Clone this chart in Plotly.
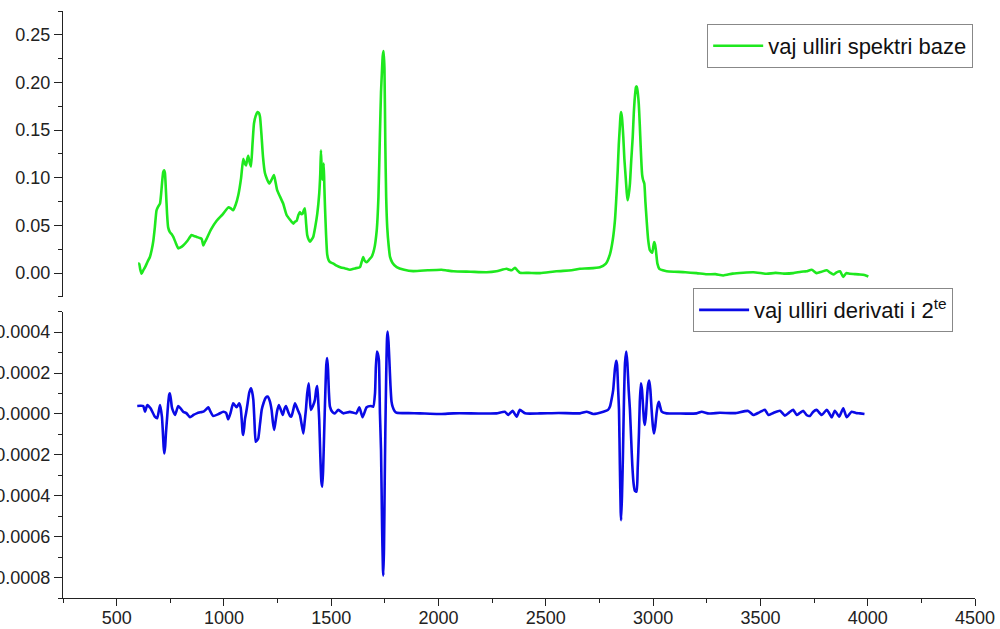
import plotly.graph_objects as go

# ---- data ----
wn_base = [600, 605, 610, 616, 624, 632, 644, 655, 663, 671, 678, 686, 694, 702, 708, 713, 717, 721, 725,
           730, 735, 740, 748, 756, 764, 775, 787, 798, 810, 830, 849, 860, 873, 885, 896, 904, 912, 919,
           940, 966, 995, 1020, 1032, 1043, 1055, 1067, 1080, 1090, 1097, 1103, 1108, 1113, 1120, 1126, 1133,
           1140, 1148, 1157, 1163, 1168, 1175, 1182, 1191, 1200, 1211, 1222, 1233, 1240, 1248, 1262, 1276,
           1292, 1308, 1323, 1331, 1339, 1347, 1354, 1360, 1367, 1372, 1377, 1383, 1388, 1395, 1401, 1408,
           1416, 1425, 1435, 1444, 1449, 1452, 1455, 1458, 1462, 1465, 1468, 1471, 1476, 1481, 1487, 1494,
           1510, 1525, 1545, 1565, 1587, 1610, 1634, 1642, 1649, 1656, 1665, 1676, 1688, 1700, 1712, 1720,
           1727, 1732, 1736, 1740, 1744, 1748, 1752, 1756, 1761, 1768, 1774, 1785, 1805, 1840, 1882, 1950,
           2014, 2040, 2069, 2150, 2224, 2270, 2317, 2330, 2341, 2356, 2367, 2379, 2420, 2473, 2550, 2620,
           2659, 2700, 2752, 2780, 2799, 2812, 2822, 2830, 2835, 2840, 2845, 2848, 2851, 2855, 2861, 2866,
           2872, 2877, 2881, 2886, 2892, 2898, 2905, 2910, 2915, 2920, 2923, 2927, 2933, 2938, 2942, 2946,
           2949, 2953, 2959, 2964, 2970, 2977, 2985, 2996, 3001, 3005, 3009, 3013, 3020, 3029, 3045, 3063,
           3100, 3150, 3203, 3250, 3290, 3327, 3370, 3420, 3467, 3500, 3529, 3570, 3610, 3653, 3690, 3715,
           3739, 3762, 3785, 3809, 3825, 3840, 3855, 3871, 3886, 3900, 3917, 3940, 3964, 3985, 4003]
abs_base = [0.010, 0.0099, 0.004, -0.0006, 0.003, 0.006, 0.012, 0.017, 0.024, 0.034, 0.048, 0.066, 0.070,
            0.073, 0.085, 0.098, 0.106, 0.108, 0.105, 0.085, 0.062, 0.048, 0.043, 0.041, 0.038, 0.032, 0.026,
            0.027, 0.029, 0.034, 0.040, 0.039, 0.038, 0.037, 0.036, 0.029, 0.033, 0.036, 0.046, 0.055, 0.062,
            0.069, 0.068, 0.066, 0.072, 0.082, 0.100, 0.120, 0.115, 0.113, 0.119, 0.123, 0.116, 0.112, 0.135,
            0.157, 0.165, 0.169, 0.168, 0.164, 0.145, 0.122, 0.105, 0.099, 0.094, 0.098, 0.103, 0.096, 0.087,
            0.080, 0.073, 0.061, 0.056, 0.052, 0.054, 0.055, 0.061, 0.064, 0.062, 0.0625, 0.066, 0.068, 0.052,
            0.040, 0.035, 0.033, 0.035, 0.038, 0.048, 0.0625, 0.0835, 0.105, 0.129, 0.112, 0.098, 0.108, 0.115,
            0.090, 0.069, 0.040, 0.020, 0.014, 0.0116, 0.010, 0.008, 0.006, 0.005, 0.0036, 0.005, 0.0063,
            0.012, 0.017, 0.013, 0.0116, 0.014, 0.017, 0.025, 0.045, 0.080, 0.147, 0.19, 0.21, 0.228, 0.233,
            0.215, 0.136, 0.080, 0.048, 0.028, 0.017, 0.011, 0.0063, 0.0035, 0.0021, 0.003, 0.0036, 0.0028,
            0.002, 0.0015, 0.001, 0.002, 0.0046, 0.0035, 0.003, 0.0057, 0.003, 0.0004, 0.0003, 0.0, 0.002,
            0.003, 0.0046, 0.005, 0.0063, 0.010, 0.020, 0.035, 0.055, 0.085, 0.108, 0.135, 0.154, 0.165,
            0.169, 0.163, 0.143, 0.120, 0.101, 0.085, 0.0765, 0.082, 0.094, 0.118, 0.143, 0.168, 0.185, 0.195,
            0.196, 0.192, 0.178, 0.155, 0.133, 0.113, 0.103, 0.098, 0.094, 0.075, 0.055, 0.035, 0.024, 0.0215,
            0.028, 0.0326, 0.030, 0.024, 0.010, 0.0046, 0.003, 0.002, 0.0015, 0.001, 0.0, -0.0012, -0.001,
            -0.0024, -0.0005, 0.0005, 0.001, 0.0002, -0.0007, 0.0003, -0.0005, 0.0, 0.0015, 0.002, 0.0036,
            0.0, 0.0015, 0.003, 0.0005, -0.0014, 0.0008, 0.002, -0.004, 0.0, -0.0007, -0.001, -0.0014, -0.002,
            -0.0035]

wn_deriv = [596, 610, 624, 632, 643, 658, 678, 689, 702, 711, 715, 719, 722, 726, 730, 735, 740, 745, 748,
            753, 757, 761, 772, 787, 800, 810, 826, 842, 858, 873, 890, 904, 916, 927, 938, 950, 975, 997,
            1010, 1020, 1032, 1043, 1059, 1071, 1078, 1083, 1087, 1090, 1094, 1098, 1103, 1110, 1118, 1126,
            1131, 1137, 1142, 1148, 1154, 1160, 1168, 1176, 1185, 1195, 1204, 1213, 1222, 1228, 1234, 1240,
            1248, 1256, 1265, 1274, 1282, 1289, 1296, 1302, 1308, 1314, 1322, 1331, 1342, 1354, 1362, 1370,
            1376, 1382, 1388, 1395, 1400, 1405, 1415, 1424, 1430, 1435, 1440, 1444, 1449, 1454, 1458, 1462,
            1467, 1472, 1477, 1481, 1485, 1489, 1494, 1505, 1517, 1533, 1556, 1587, 1617, 1631, 1646, 1665,
            1684, 1696, 1704, 1708, 1713, 1717, 1722, 1727, 1732, 1737, 1741, 1743, 1746, 1749, 1752, 1756,
            1760, 1763, 1767, 1771, 1776, 1781, 1786, 1795, 1805, 1860, 1913, 1960, 2014, 2069, 2150, 2224,
            2270, 2309, 2325, 2345, 2364, 2379, 2403, 2473, 2560, 2659, 2690, 2721, 2768, 2790, 2799, 2808,
            2814, 2822, 2828, 2832, 2837, 2841, 2845, 2849, 2851, 2855, 2859, 2864, 2869, 2875, 2880, 2886,
            2892, 2898, 2903, 2909, 2915, 2923, 2928, 2934, 2938, 2943, 2948, 2954, 2958, 2962, 2967, 2972,
            2977, 2982, 2987, 2993, 2999, 3004, 3010, 3016, 3022, 3027, 3033, 3040, 3063, 3120, 3203, 3226,
            3260, 3311, 3380, 3443, 3467, 3495, 3521, 3537, 3560, 3591, 3614, 3635, 3653, 3669, 3685, 3700,
            3715, 3731, 3745, 3762, 3785, 3809, 3820, 3832, 3847, 3867, 3886, 3902, 3925, 3945, 3964, 3985,
            4003]
d2_deriv = [3.9e-5, 4.0e-5, 3.9e-5, 1.1e-5, 4.4e-5, 2.8e-5, -1.3e-5, -2.1e-5, 4.4e-5, -1.3e-5, -8.0e-5,
            -1.6e-4, -1.93e-4, -1.6e-4, -9.0e-5, -2.0e-5, 5.0e-5, 9.5e-5, 1.01e-4, 7.0e-5, 3.5e-5, 2.0e-5,
            -5e-6, 3.9e-5, 2.5e-5, 1.1e-5, 3e-6, -1.6e-5, -5e-6, 3e-6, 8e-6, 1.1e-5, 2.2e-5, 3.3e-5, 1.0e-5,
            -1.0e-5, 0.0, 1.1e-5, 5e-6, -2.6e-5, 1.0e-5, 5.2e-5, 3.3e-5, 5.2e-5, 3.0e-5, -3.0e-5, -9.0e-5,
            -1.03e-4, -7.0e-5, -2.5e-5, 3e-6, 5.0e-5, 1.05e-4, 1.26e-4, 1.1e-4, 6.9e-5, -3.0e-5, -1.36e-4,
            -1.3e-4, -1.19e-4, -5.0e-5, 2.0e-5, 5.5e-5, 8.0e-5, 8.5e-5, 6.5e-5, 2.0e-5, -4.0e-5, -7.8e-5,
            -4.0e-5, 1.5e-5, 4.4e-5, 2.0e-5, -5e-6, 2.5e-5, 3.9e-5, 2.0e-5, 3e-6, -1.0e-5, -1.3e-5, 1.5e-5,
            5.2e-5, 2.5e-5, -5e-6, -5.0e-5, -9.5e-5, -4.0e-5, 2.0e-5, 1.0e-4, 1.5e-4, 8.0e-5, 2.0e-5, 4.0e-5,
            6.9e-5, 1.2e-4, 1.37e-4, 5.0e-5, -2.9e-5, -2.0e-4, -3.3e-4, -3.56e-4, -2.8e-4, -9.5e-5, 9.0e-5,
            2.4e-4, 2.73e-4, 2.2e-4, 1.1e-4, 3.6e-5, 1.0e-5, 3e-6, 2.0e-5, 3e-6, 1.0e-5, 3e-6, 3.3e-5, -1.6e-5,
            3.3e-5, 3.9e-5, 3.6e-5, 1.01e-4, 2.3e-4, 3.05e-4, 2.95e-4, 2.65e-4, 0.0, -1.76e-4, -5.5e-4,
            -7.6e-4, -7.9e-4, -6.5e-4, -3.5e-4, -9.5e-5, 1.8e-4, 3.7e-4, 4.03e-4, 3.5e-4, 2.6e-4, 1.4e-4,
            6.0e-5, 3.6e-5, 1.5e-5, 6e-6, 4e-6, 3e-6, 1e-6, 0.0, 3e-6, 3e-6, 2e-6, 3e-6, 1.1e-5, -5e-6, 1.5e-5,
            -1.3e-5, 2.0e-5, 3e-6, 3e-6, 5e-6, 3e-6, 1.1e-5, 0.0, 1.1e-5, 2.0e-5, 3.6e-5, 8.0e-5, 1.18e-4,
            2.2e-4, 2.6e-4, 2.4e-4, 1.2e-4, 2.0e-5, -2.5e-4, -4.8e-4, -5.2e-4, -4.0e-4, -2.2e-4, 6.0e-5,
            2.5e-4, 3.05e-4, 2.5e-4, 1.2e-4, 2.0e-5, -1.3e-4, -2.5e-4, -3.4e-4, -3.75e-4, -3.8e-4, -2.7e-4,
            -9.5e-5, 6.0e-5, 1.5e-4, 1.2e-4, 2.0e-5, -3.5e-5, -5.4e-5, 0.0, 9.0e-5, 1.45e-4, 1.63e-4, 1.2e-4,
            2.0e-5, -6.0e-5, -9.5e-5, -6.0e-5, 3e-6, 4.5e-5, 6.0e-5, 3.5e-5, 1.1e-5, 3e-6, 2e-6, 3e-6, 1.1e-5,
            2e-6, 6e-6, 4e-6, 1.5e-5, -5e-6, 8e-6, 2.0e-5, -5e-6, 5e-6, 1.6e-5, -8e-6, 8e-6, 2.0e-5, -5e-6,
            6e-6, 1.5e-5, -5e-6, -1.0e-5, 1.0e-5, 2.0e-5, -5e-6, 2.0e-5, 5e-6, -1.6e-5, 1.6e-5, -1.3e-5,
            2.8e-5, -1.6e-5, 1.1e-5, 5e-6, 3e-6, 0.0]

name_base = "vaj ulliri spektri baze"
name_deriv = "vaj ulliri derivati i 2<sup>te</sup>"

x_ticks = [500, 1000, 1500, 2000, 2500, 3000, 3500, 4000, 4500]

# ---- figure ----
FONT = "Liberation Sans, Arial, sans-serif"
fig = go.Figure()
fig.add_trace(go.Scatter(x=wn_base, y=abs_base, mode="lines", name=name_base,
                         line=dict(color="#1ee81e", width=2.6, shape="spline", smoothing=0.5),
                         xaxis="x2", yaxis="y", legend="legend"))
fig.add_trace(go.Scatter(x=wn_deriv, y=d2_deriv, mode="lines", name=name_deriv,
                         line=dict(color="#0a0ae6", width=2.6, shape="spline", smoothing=0.5),
                         xaxis="x", yaxis="y2", legend="legend2"))

axis_common = dict(showgrid=False, zeroline=False, showline=True, linecolor="#222", linewidth=1.3,
                   tickwidth=1.3, tickcolor="#222", ticks="outside",
                   tickfont=dict(family=FONT, size=18, color="#222"), automargin=False)
minor_style = dict(ticks="outside", ticklen=4, tickwidth=1.3, tickcolor="#222", showgrid=False)

fig.update_layout(
    width=1000, height=629,
    margin=dict(l=63, r=25, t=11, b=31),
    paper_bgcolor="white", plot_bgcolor="white",
    template="none",
    font=dict(family=FONT, color="#111"),
    xaxis=dict(range=[250, 4500], anchor="y2", tickvals=x_ticks, ticklen=7, ticklabelstandoff=-4,
               minor=dict(dtick=250, tick0=0, **minor_style), **axis_common),
    xaxis2=dict(range=[250, 4500], anchor="y", matches="x", visible=False),
    yaxis=dict(domain=[0.5128, 1.0], range=[-0.025, 0.275], anchor="x2", dtick=0.05, tick0=0,
               ticklen=8, tickformat=".2f", minor=dict(dtick=0.025, tick0=0, **minor_style),
               **axis_common),
    yaxis2=dict(domain=[0.0, 0.4877], range=[-0.0009, 0.0005], anchor="x", dtick=0.0002, tick0=0,
                ticklen=8, tickformat=".4f", minor=dict(dtick=0.0001, tick0=0, **minor_style),
                **axis_common),
    legend=dict(x=0.998, xanchor="right", y=0.978, yanchor="top", bgcolor="white", itemwidth=50,
                bordercolor="#888", borderwidth=1, font=dict(family=FONT, size=22, color="#111")),
    legend2=dict(x=0.976, xanchor="right", y=0.528, yanchor="top", bgcolor="white", itemwidth=50,
                 bordercolor="#888", borderwidth=1, font=dict(family=FONT, size=22, color="#111")),
    showlegend=True,
)

fig.write_html("out.html")
